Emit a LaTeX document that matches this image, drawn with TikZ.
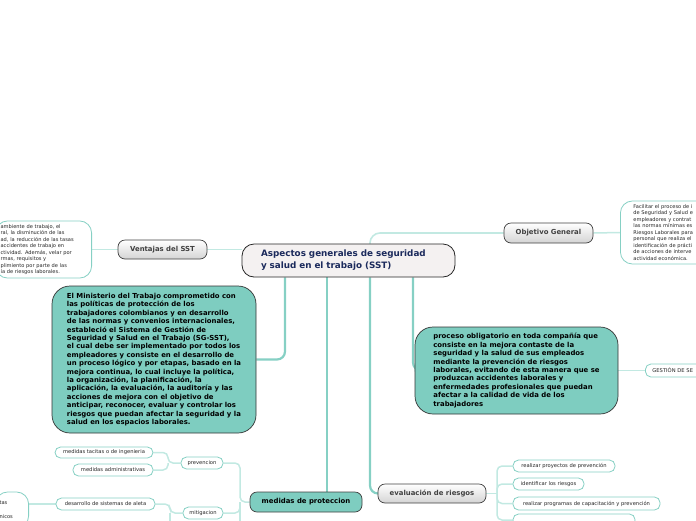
\documentclass[tikz,border=0pt]{standalone}
\usepackage{fontspec}
\setmainfont{DejaVu Sans}
\usepackage{tikz}
\usetikzlibrary{positioning,backgrounds,calc}
\definecolor{tealfill}{HTML}{7ECDC0}
\definecolor{tealline}{HTML}{86D0C4}
\definecolor{paleline}{HTML}{C2E9E2}
\definecolor{rootfill}{HTML}{F4F1F1}
\definecolor{titleblue}{HTML}{1B2A5C}
\tikzset{
  root/.style={draw=black!85, line width=0.8pt, fill=rootfill, rounded corners=12pt,
               align=left, font=\fontsize{8.8}{12}\selectfont\bfseries,
               text=titleblue, text width=175pt, inner xsep=19pt, minimum height=33pt},
  base/.style={draw=black!75, line width=0.7pt, rounded corners=7pt,
               font=\fontsize{6.9}{8}\selectfont\bfseries, minimum height=19pt},
  topic/.style={base, top color=white, bottom color=black!17, text=black!75},
  keytopic/.style={base, fill=tealfill, text=black},
  note/.style={draw=black!80, line width=0.7pt, fill=tealfill, rounded corners=18pt,
               align=left, font=\fontsize{6.9}{8.4}\selectfont\bfseries, inner xsep=6pt},
  leaf/.style={draw=tealline, line width=0.8pt, fill=white, rounded corners=5.5pt,
               font=\fontsize{5.2}{6}\selectfont, text=black!85,
               minimum height=12pt, inner sep=0pt},
  memo/.style={draw=tealline, line width=0.8pt, fill=white, rounded corners=12pt,
               align=left, font=\fontsize{5.1}{6.5}\selectfont, text=black!85},
  branch/.style={draw=tealline, line width=2.2pt, rounded corners=8pt},
  twig/.style={draw=paleline, line width=1.5pt, rounded corners=5pt},
}
\begin{document}
\begin{tikzpicture}[x=1pt, y=-1pt]
  \useasboundingbox (0,0) rectangle (696,520);
  \clip (0,0) rectangle (696,520);
  \node[root] (sst) at (348.5,260.5) {Aspectos generales de seguridad\\y salud en el trabajo (SST)};
  \node[topic, minimum width=89pt] (ventajas) at (162.5,249.5) {Ventajas del SST};
  \node[topic, minimum width=89pt, minimum height=20pt] (objetivo) at (548.5,233) {Objetivo General};
  \node[memo, anchor=east, text width=86pt, inner xsep=5pt, minimum height=57pt] (ventajastxt)
    at (92,249.5) {ambiente de trabajo, el\\ral, la disminución de las\\ad, la reducción de las tasas\\
    accidentes de trabajo en\\ctividad. Además, velar por\\rmas, requisitos y\\
    plimiento por parte de las\\ía de riesgos laborales.};
  \node[memo, anchor=west, text width=100pt, inner xsep=13pt, minimum height=63pt] (objetivotxt)
    at (620,232.5) {Facilitar el proceso de i\\de Seguridad y Salud e\\empleadores y contrat\\
    las normas mínimas es\\Riesgos Laborales para\\personal que realiza el\\
    identificación de prácti\\de acciones de interve\\actividad económica.};
  \node[note, minimum width=204pt, minimum height=147pt] (ministerio) at (154,359.5)
    {El Ministerio del Trabajo comprometido con\\las políticas de protección de los\\
    trabajadores colombianos y en desarrollo\\de las normas y convenios internacionales,\\
    estableció el Sistema de Gestión de\\Seguridad y Salud en el Trabajo (SG-SST),\\
    el cual debe ser implementado por todos los\\empleadores y consiste en el desarrollo de\\
    un proceso lógico y por etapas, basado en la\\mejora continua, lo cual incluye la política,\\
    la organización, la planificación, la\\aplicación, la evaluación, la auditoría y las\\
    acciones de mejora con el objetivo de\\anticipar, reconocer, evaluar y controlar los\\
    riesgos que puedan afectar la seguridad y la\\salud en los espacios laborales.};
  \node[note, minimum width=203pt, minimum height=87pt] (proceso) at (516.5,370.5)
    {proceso obligatorio en toda compañía que\\consiste en la mejora contaste de la\\
    seguridad y la salud de sus empleados\\mediante la prevención de riesgos\\
    laborales, evitando de esta manera que se\\produzcan accidentes laborales y\\
    enfermedades profesionales que puedan\\afectar a la calidad de vida de los\\trabajadores};
  \node[leaf, anchor=west, align=left, text width=66pt, inner xsep=7pt, minimum height=13pt] (gestion)
    at (645,370.5) {GESTIÓN DE SE};
  \node[keytopic, minimum width=112pt, minimum height=20pt] (medidas) at (306,502) {medidas de proteccion};
  \node[topic, minimum width=108pt] (evalr) at (432,493.5) {evaluación de riesgos};
  \node[leaf, minimum width=42pt] (prevencion) at (202,463) {prevencion};
  \node[leaf, minimum width=40pt] (mitigacion) at (203,513) {mitigacion};
  \node[leaf, minimum width=98pt, minimum height=11pt] (tacitas) at (104,452.5) {medidas tacitas o de ingenieria};
  \node[leaf, minimum width=80pt] (admin) at (113,470) {medidas administrativas};
  \node[leaf, minimum width=99pt] (desarrollo) at (105.5,504) {desarrollo de sistemas de aleta};
  \node[memo, anchor=east, text width=25pt, inner xsep=4pt, minimum height=36pt] (tecnicos)
    at (29,510) {tas\\[7.5pt]nicos};
  \node[leaf, minimum width=102pt] (proyectos) at (564,466) {realizar proyectos de prevención};
  \node[leaf, minimum width=71pt] (identificar) at (548.5,484) {identificar los riesgos};
  \node[leaf, minimum width=147pt, minimum height=13pt] (programas) at (586.5,503.5)
    {realizar programas de capacitación y prevención};
  \node[leaf, minimum width=122pt] (eval4) at (574,520) {};
  \coordinate (phub) at (168,463);
  \coordinate (mhub) at (240,502);
  \coordinate (thub) at (170,513);
  \coordinate (ehub) at (497,493.5);
  \begin{scope}[on background layer]
    \draw[branch] ([xshift=-63.5pt]sst.south) |- (ministerio.east);
    \draw[branch] ([xshift=-21.5pt]sst.south) -- ([xshift=-21.5pt]sst.south |- medidas.north);
    \draw[branch] ([xshift=21.5pt]sst.south) |- (evalr.west);
    \draw[branch] ([xshift=64.5pt]sst.south) |- (proceso.west);
    \draw[twig, line width=1.6pt, rounded corners=10pt] ([xshift=21.5pt]sst.north) |- (objetivo.west);
    \draw[twig, line width=1.6pt] (sst.west |- ventajas.east) -- (ventajas.east);
    \draw[twig] (ventajas.west) -- (ventajastxt.east);
    \draw[twig] (objetivo.east) -- (objetivotxt.west);
    \draw[twig] (proceso.east) -- (gestion.west);
    \draw[twig] (prevencion.east) -| (mhub) -- (medidas.west);
    \draw[twig] (mitigacion.east) -| (mhub);
    \draw[twig] (mhub) -- ++(0,25);
    \draw[twig] (tacitas.east) -| (phub) -- (prevencion.west);
    \draw[twig] (admin.east) -| (phub);
    \draw[twig] (desarrollo.east) -| (thub) -- (mitigacion.west);
    \draw[twig] (thub) -- ++(0,12);
    \draw[twig] (tecnicos.east |- desarrollo.west) -- (desarrollo.west);
    \draw[twig] (evalr.east) -- (ehub);
    \draw[twig] (proyectos.west) -| (ehub);
    \draw[twig] (identificar.west) -| (ehub);
    \draw[twig] (programas.west) -| (ehub);
    \draw[twig] (eval4.west) -| (ehub);
  \end{scope}
\end{tikzpicture}
\end{document}
